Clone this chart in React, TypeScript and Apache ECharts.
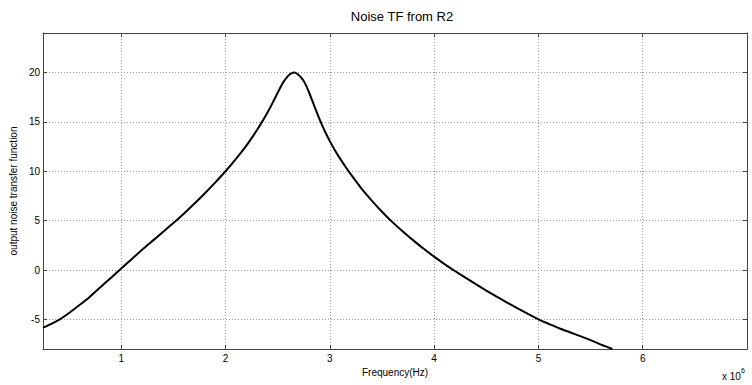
import React, { useEffect, useRef } from "react";
import * as echarts from "echarts";

// Frequency in units of 10^6 Hz
const freqMHz = [
  0.25, 0.33, 0.41, 0.5, 0.6, 0.7, 0.8, 0.9, 1.0, 1.1, 1.2, 1.3, 1.4, 1.5, 1.6, 1.7, 1.8, 1.9,
  2.0, 2.1, 2.2, 2.25, 2.3, 2.35, 2.4, 2.45, 2.5, 2.55, 2.6, 2.63, 2.66, 2.69, 2.72, 2.76, 2.8,
  2.85, 2.9, 2.95, 3.0, 3.05, 3.1, 3.15, 3.2, 3.3, 3.4, 3.5, 3.6, 3.7, 3.8, 3.9, 4.0, 4.1, 4.2,
  4.3, 4.4, 4.5, 4.6, 4.7, 4.8, 4.9, 5.0, 5.1, 5.2, 5.3, 5.4, 5.5, 5.6, 5.71,
];
const tfValues = [
  -5.83, -5.45, -5.0, -4.35, -3.55, -2.7, -1.75, -0.8, 0.15, 1.1, 2.05, 2.95, 3.85, 4.75, 5.7,
  6.7, 7.75, 8.85, 10.0, 11.25, 12.6, 13.35, 14.15, 15.0, 15.9, 16.9, 17.95, 18.95, 19.65, 19.9,
  20.0, 19.85, 19.55, 18.95, 18.0, 16.65, 15.3, 14.1, 13.05, 12.1, 11.25, 10.45, 9.7, 8.3, 7.05,
  5.9, 4.85, 3.9, 3.0, 2.15, 1.35, 0.6, -0.1, -0.78, -1.44, -2.08, -2.7, -3.3, -3.88, -4.45, -5.0,
  -5.45, -5.9, -6.3, -6.7, -7.1, -7.55, -8.0,
];
const xTicks = [1, 2, 3, 4, 5, 6];
const yTicks = [-5, 0, 5, 10, 15, 20];

const FONT = "Liberation Sans";
const AXIS_COLOR = "#444";
const GRID_COLOR = "#999";

export default function App() {
  const ref = useRef<HTMLDivElement>(null);
  useEffect(() => {
    if (!ref.current) return;
    const chart = echarts.init(ref.current, null, { renderer: "svg" });
    const data = freqMHz.map((f, i) => [f, tfValues[i]]);
    const baseX = {
      type: "value" as const,
      min: 0.25,
      max: 7,
      axisLine: { show: true, onZero: false, lineStyle: { color: AXIS_COLOR, width: 1 } },
      axisTick: {
        show: true,
        inside: true,
        length: 4,
        customValues: xTicks,
        lineStyle: { color: AXIS_COLOR },
      },
    };
    const baseY = {
      type: "value" as const,
      min: -8,
      max: 24,
      axisLine: { show: true, onZero: false, lineStyle: { color: AXIS_COLOR, width: 1 } },
      axisTick: {
        show: true,
        inside: true,
        length: 4,
        customValues: yTicks,
        lineStyle: { color: AXIS_COLOR },
      },
    };
    chart.setOption({
      animation: false,
      backgroundColor: "#fff",
      grid: { left: 39, right: 5, top: 33, bottom: 36, containLabel: false },
      xAxis: [
        {
          ...baseX,
          position: "bottom",
          name: "Frequency(Hz)",
          nameLocation: "middle",
          nameGap: 17,
          nameTextStyle: { color: "#000", fontSize: 10, fontFamily: FONT },
          axisLabel: {
            customValues: xTicks,
            color: "#000",
            fontSize: 10,
            fontFamily: FONT,
            margin: 4,
            formatter: (v: number) => String(v),
          },
          splitLine: { show: true, lineStyle: { color: GRID_COLOR, type: [1, 2], width: 1 } },
        },
        {
          ...baseX,
          position: "top",
          axisLabel: { show: false },
          splitLine: { show: false },
        },
      ],
      yAxis: [
        {
          ...baseY,
          position: "left",
          name: "output noise transfer function",
          nameLocation: "middle",
          nameGap: 16,
          nameRotate: 90,
          nameTextStyle: { color: "#000", fontSize: 10, fontFamily: FONT },
          axisLabel: {
            customValues: yTicks,
            color: "#000",
            fontSize: 10,
            fontFamily: FONT,
            margin: 3,
            formatter: (v: number) => String(v),
          },
          splitLine: { show: true, lineStyle: { color: GRID_COLOR, type: [1, 2], width: 1 } },
        },
        {
          ...baseY,
          position: "right",
          axisLabel: { show: false },
          splitLine: { show: false },
        },
      ],
      graphic: [
        {
          type: "text",
          x: 402,
          y: 16,
          style: {
            text: "Noise TF from R2",
            fill: "#000",
            font: `13px "${FONT}"`,
            textAlign: "center",
            textVerticalAlign: "middle",
          },
        },
        {
          type: "text",
          x: 722,
          y: 376,
          style: {
            text: "x 10",
            fill: "#000",
            font: `10px "${FONT}"`,
            textAlign: "left",
            textVerticalAlign: "middle",
          },
        },
        {
          type: "text",
          x: 741,
          y: 370,
          style: {
            text: "6",
            fill: "#000",
            font: `7px "${FONT}"`,
            textAlign: "left",
            textVerticalAlign: "middle",
          },
        },
      ],
      series: [
        {
          type: "line",
          xAxisIndex: 0,
          yAxisIndex: 0,
          data,
          smooth: 0.2,
          showSymbol: false,
          clip: true,
          lineStyle: { color: "#000", width: 2 },
        },
      ],
    });
    return () => chart.dispose();
  }, []);
  return (
    <div
      ref={ref}
      style={{ position: "absolute", left: 0, top: 0, width: 752, height: 385, background: "#fff" }}
    />
  );
}
